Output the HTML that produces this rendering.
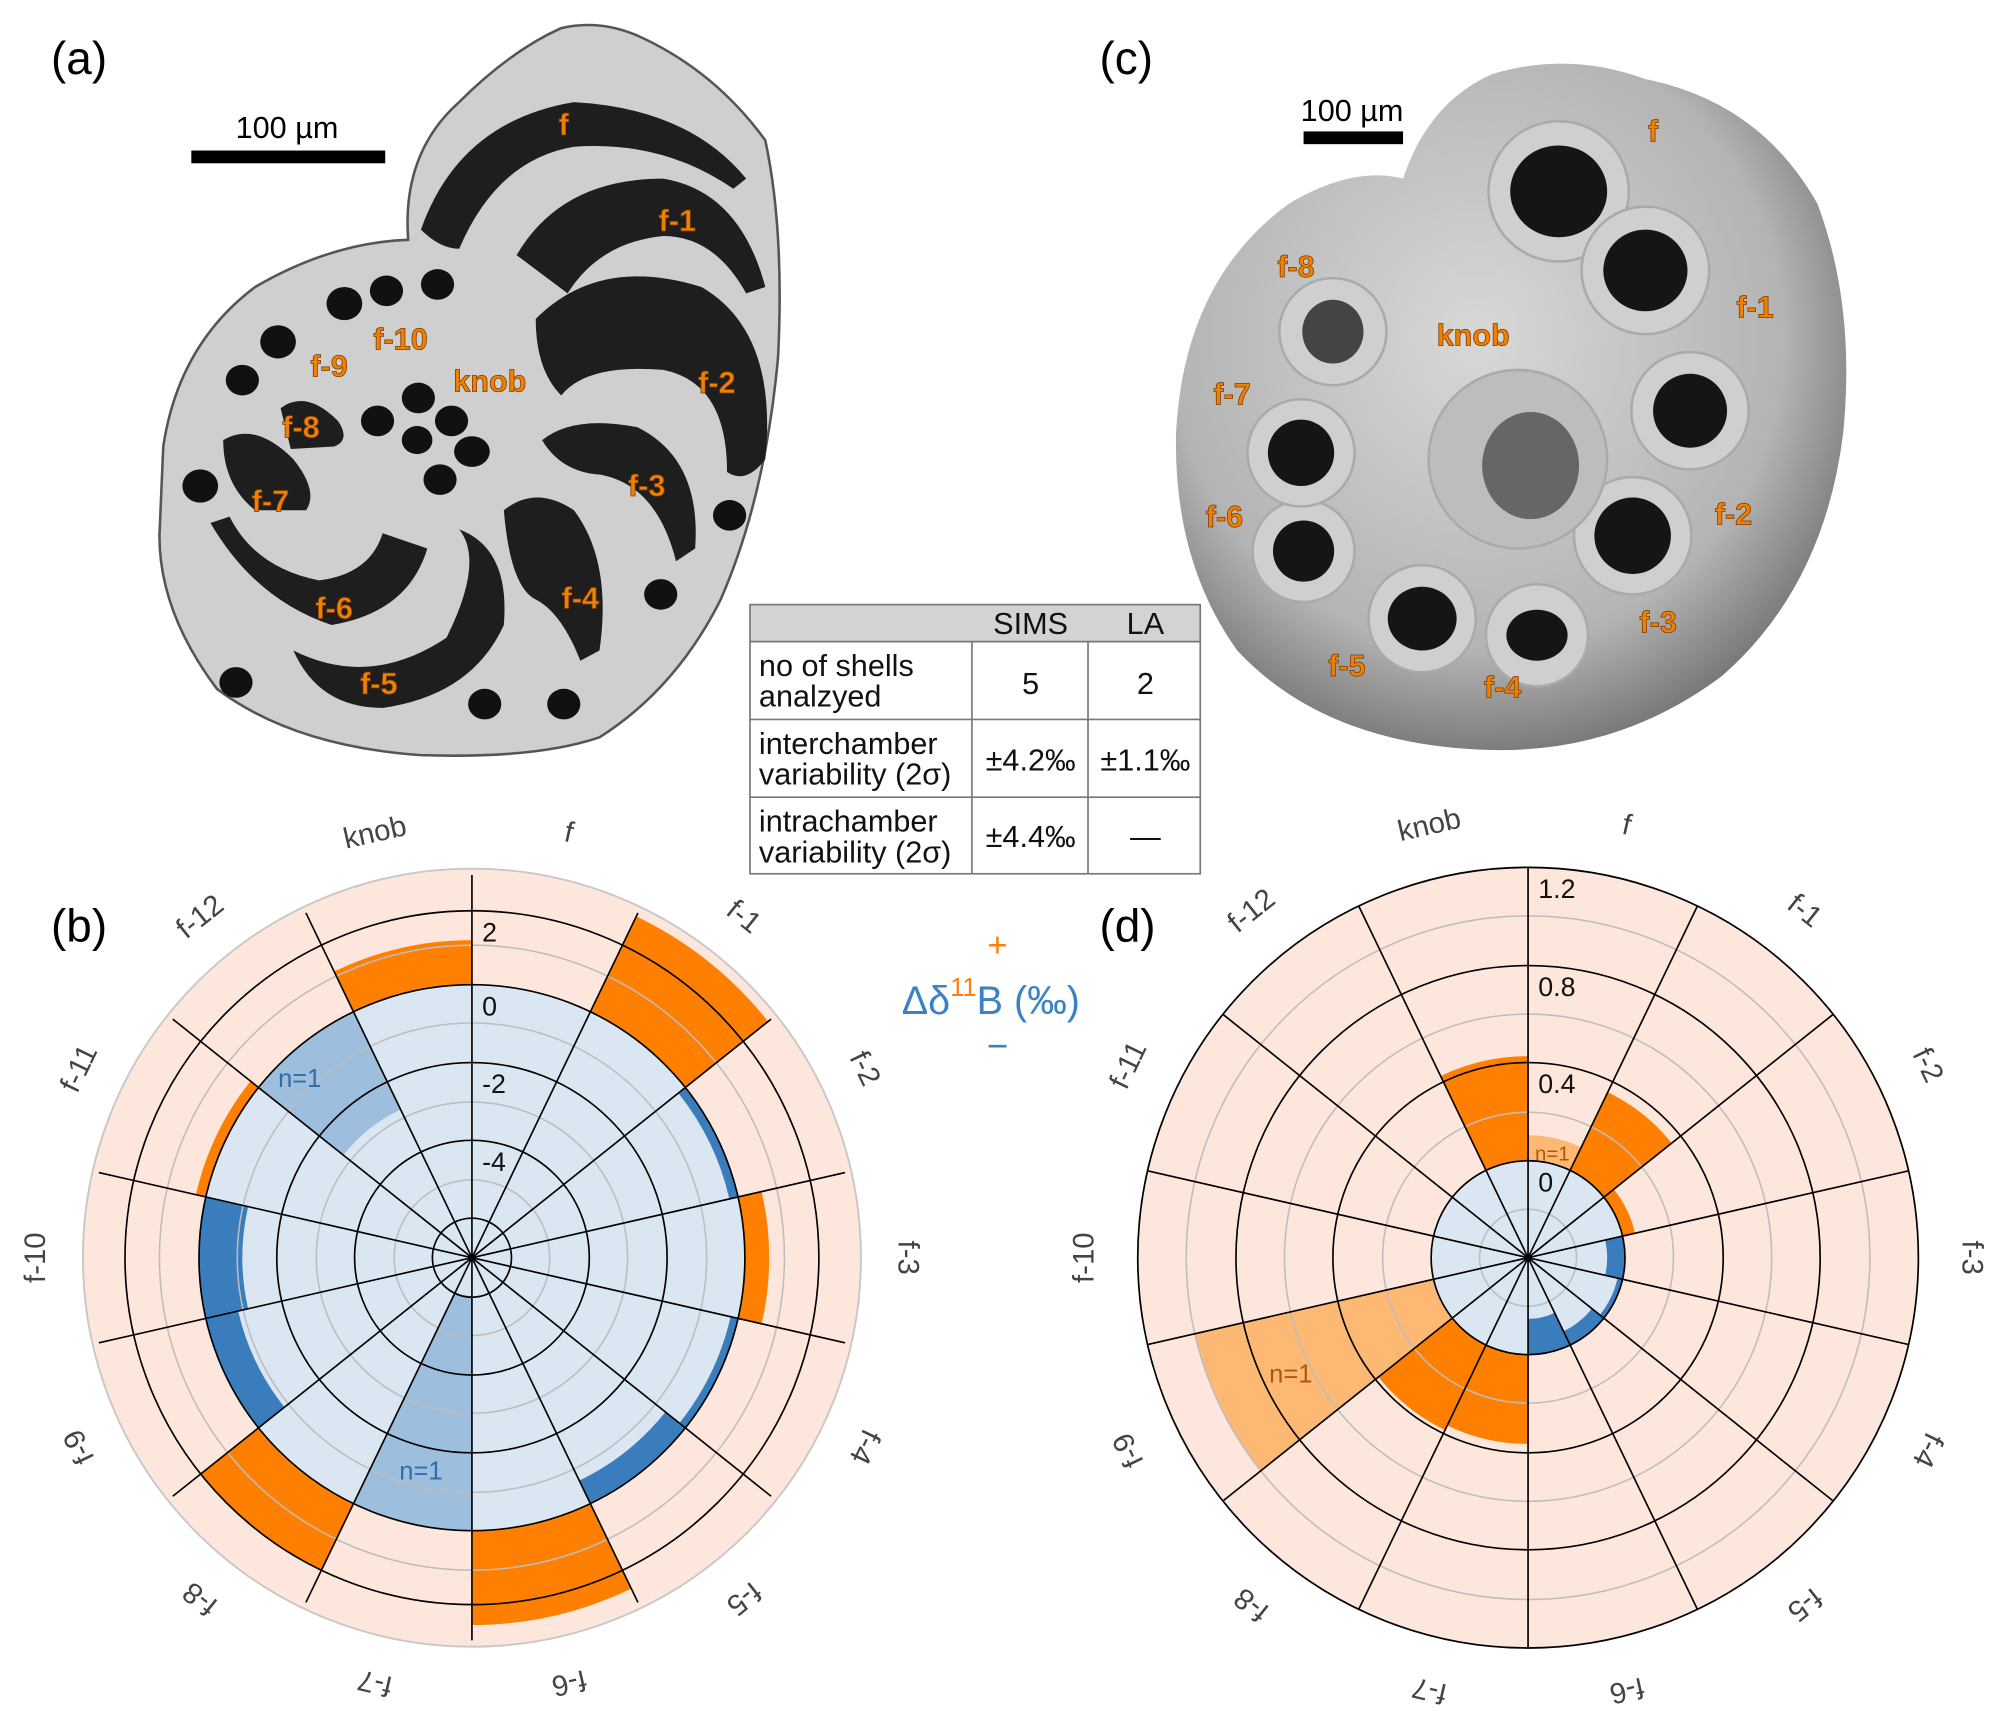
<!DOCTYPE html>
<html><head><meta charset="utf-8"><style>
html,body{margin:0;padding:0;background:#fff}
svg{display:block}
text{font-family:"Liberation Sans",Arial,sans-serif}
.lab{fill:#f08000;font-weight:bold;font-size:24px;stroke:#7a3a00;stroke-width:0.6px}
.pl{fill:#444;font-size:23px}
.tk{fill:#111;font-size:21px}
</style></head><body>
<svg id="s" width="2000" height="1722" viewBox="0 0 1568 1350" xmlns="http://www.w3.org/2000/svg">
<defs>
<radialGradient id="sg" cx="0.45" cy="0.4" r="0.65">
<stop offset="0" stop-color="#d8d8d8"/><stop offset="0.7" stop-color="#b4b4b4"/><stop offset="1" stop-color="#6a6a6a"/>
</radialGradient>
</defs>
<!-- panel a shell -->
<path d="M128,350 Q140,270 200,225 Q260,190 320,188 Q315,120 360,80 Q400,40 440,22 Q470,15 500,28 Q560,55 600,110 Q615,180 610,280 Q600,390 565,470 Q530,540 470,578 Q420,595 330,592 Q230,585 170,540 Q125,480 125,420 Z" fill="#cfcfcf" stroke="#555" stroke-width="2"/>
<g fill="#1e1e1e">
<path d="M330,180 Q360,95 450,80 Q540,85 585,140 L575,148 Q520,110 450,115 Q390,125 360,195 Q345,195 330,180Z"/>
<path d="M405,200 Q440,140 520,140 Q580,150 600,225 L585,230 Q560,185 520,185 Q470,190 445,230 Z"/>
<path d="M420,250 Q470,200 550,225 Q610,260 600,360 Q585,380 570,370 Q570,300 520,290 Q460,285 440,310 Q420,290 420,250Z"/>
<path d="M425,345 Q450,325 500,335 Q550,360 545,430 L530,440 Q515,380 470,372 Q440,370 425,345Z"/>
<path d="M395,400 Q420,380 450,400 Q480,440 470,510 L455,518 Q440,480 420,470 Q400,460 395,400Z"/>
<path d="M230,510 Q290,540 350,500 Q380,440 360,415 Q400,430 395,490 Q370,545 300,555 Q250,555 230,510Z"/>
<path d="M165,410 Q200,470 260,490 Q320,480 335,430 L300,418 Q290,450 250,455 Q200,445 180,405Z"/>
<path d="M175,345 Q200,330 230,360 Q250,385 240,400 L200,400 Q175,380 175,345Z"/>
<path d="M220,320 Q240,305 265,330 Q275,345 262,350 L228,352Z"/>
</g>
<g fill="#111">
<ellipse cx="157" cy="381" rx="14" ry="13"/><ellipse cx="190" cy="298" rx="13" ry="12"/><ellipse cx="218" cy="268" rx="14" ry="13"/>
<ellipse cx="270" cy="238" rx="14" ry="13"/><ellipse cx="303" cy="228" rx="13" ry="12"/><ellipse cx="343" cy="223" rx="13" ry="12"/>
<ellipse cx="296" cy="330" rx="13" ry="12"/><ellipse cx="328" cy="312" rx="13" ry="12"/><ellipse cx="354" cy="330" rx="13" ry="12"/>
<ellipse cx="370" cy="354" rx="14" ry="12"/><ellipse cx="345" cy="376" rx="13" ry="12"/><ellipse cx="327" cy="345" rx="12" ry="11"/>
<ellipse cx="572" cy="404" rx="13" ry="12"/><ellipse cx="518" cy="466" rx="13" ry="12"/><ellipse cx="442" cy="552" rx="13" ry="12"/>
<ellipse cx="380" cy="552" rx="13" ry="12"/><ellipse cx="185" cy="535" rx="13" ry="12"/>
</g>
<!-- panel c sphere -->
<path d="M922,340 Q928,220 1010,160 Q1060,130 1100,140 Q1120,80 1170,58 Q1230,40 1290,62 Q1380,80 1425,160 Q1455,240 1445,340 Q1430,460 1350,530 Q1270,590 1170,588 Q1040,585 970,510 Q920,440 922,340Z" fill="url(#sg)"/>
<g fill="#cfcfcf" stroke="#aaa" stroke-width="2">
<circle cx="1222" cy="150" r="55"/><circle cx="1290" cy="212" r="50"/><circle cx="1325" cy="322" r="46"/><circle cx="1280" cy="420" r="46"/>
<circle cx="1205" cy="498" r="40"/><circle cx="1115" cy="485" r="42"/><circle cx="1022" cy="432" r="40"/><circle cx="1020" cy="355" r="42"/><circle cx="1045" cy="260" r="42"/>
<circle cx="1190" cy="360" r="70" fill="#bdbdbd"/>
</g>
<g fill="#151515">
<ellipse cx="1222" cy="150" rx="38" ry="36"/><ellipse cx="1290" cy="212" rx="33" ry="32"/><ellipse cx="1325" cy="322" rx="29" ry="29"/><ellipse cx="1280" cy="420" rx="30" ry="30"/>
<ellipse cx="1205" cy="498" rx="24" ry="20"/><ellipse cx="1115" cy="485" rx="27" ry="25"/><ellipse cx="1022" cy="432" rx="24" ry="24"/><ellipse cx="1020" cy="355" rx="26" ry="26"/><ellipse cx="1045" cy="260" rx="24" ry="25" fill="#444"/>
<ellipse cx="1200" cy="365" rx="38" ry="42" fill="#666"/>
</g>
<!-- labels photos -->
<text x="40" y="58" font-size="36">(a)</text>
<text x="862" y="58" font-size="36">(c)</text>
<text x="40" y="738" font-size="36">(b)</text>
<text x="862" y="738" font-size="36">(d)</text>
<text x="225" y="108" font-size="24" text-anchor="middle">100 µm</text>
<rect x="150" y="118" width="152" height="10" fill="#000"/>
<text x="1060" y="95" font-size="24" text-anchor="middle">100 µm</text>
<rect x="1022" y="103" width="78" height="10" fill="#000"/>
<g class="lab" text-anchor="middle">
<text x="442" y="106">f</text><text x="531" y="181">f-1</text><text x="314" y="274">f-10</text><text x="258" y="295">f-9</text>
<text x="384" y="307">knob</text><text x="562" y="308">f-2</text><text x="236" y="343">f-8</text><text x="212" y="401">f-7</text>
<text x="507" y="389">f-3</text><text x="262" y="485">f-6</text><text x="455" y="477">f-4</text><text x="297" y="544">f-5</text>
<text x="1296" y="111">f</text><text x="1016" y="217">f-8</text><text x="1376" y="249">f-1</text><text x="1155" y="271">knob</text>
<text x="966" y="317">f-7</text><text x="960" y="413">f-6</text><text x="1359" y="411">f-2</text><text x="1300" y="496">f-3</text>
<text x="1056" y="530">f-5</text><text x="1178" y="547">f-4</text>
</g>
<!-- table -->
<g font-size="24" fill="#111">
<rect x="588" y="474" width="353" height="29" fill="#d3d3d3"/>
<g stroke="#777" stroke-width="1.3" fill="none">
<rect x="588" y="474" width="353" height="211"/>
<line x1="588" y1="503" x2="941" y2="503"/><line x1="588" y1="564" x2="941" y2="564"/><line x1="588" y1="625" x2="941" y2="625"/>
<line x1="762" y1="503" x2="762" y2="685"/><line x1="853" y1="503" x2="853" y2="685"/>
</g>
<text x="808" y="497" text-anchor="middle">SIMS</text><text x="898" y="497" text-anchor="middle">LA</text>
<text x="595" y="530">no of shells</text><text x="595" y="554">analzyed</text>
<text x="808" y="544" text-anchor="middle">5</text><text x="898" y="544" text-anchor="middle">2</text>
<text x="595" y="591">interchamber</text><text x="595" y="615">variability (2σ)</text>
<text x="808" y="604" text-anchor="middle">±4.2‰</text><text x="898" y="604" text-anchor="middle">±1.1‰</text>
<text x="595" y="652">intrachamber</text><text x="595" y="676">variability (2σ)</text>
<text x="808" y="664" text-anchor="middle">±4.4‰</text><text x="898" y="664" text-anchor="middle">—</text>
</g>
<!-- legend -->
<text x="782" y="750" font-size="27" fill="#ff7f0e" text-anchor="middle">+</text>
<text x="707" y="795" font-size="31" fill="#3a82c4">Δδ<tspan fill="#ff7f0e" font-size="20" dy="-14">11</tspan><tspan dy="14">B (‰)</tspan></text>
<text x="782" y="830" font-size="29" fill="#3a82c4" text-anchor="middle">−</text>
<g id="pb"></g><g id="pd"></g>
</svg>
<script>
var NS="http://www.w3.org/2000/svg";
function el(p,t,a){var e=document.createElementNS(NS,t);for(var k in a)e.setAttribute(k,a[k]);p.appendChild(e);return e;}
function pt(cx,cy,r,a){a=a*Math.PI/180;return [cx+r*Math.sin(a),cy-r*Math.cos(a)];}
function wedge(g,cx,cy,r0,r1,a0,a1,fill){
 var p0=pt(cx,cy,r1,a0),p1=pt(cx,cy,r1,a1),p2=pt(cx,cy,r0,a1),p3=pt(cx,cy,r0,a0);
 var d="M"+p0+" A"+r1+","+r1+" 0 0 1 "+p1+" L"+p2+" A"+r0+","+r0+" 0 0 0 "+p3+"Z";
 el(g,"path",{d:d,fill:fill});
}
var S=360/14, names=["f","f-1","f-2","f-3","f-4","f-5","f-6","f-7","f-8","f-9","f-10","f-11","f-12","knob"];
var OR="#ff7f00",LO="#fdb874",BL="#3a7dbd",MB="#9dbfdd",LB="#dae6f2",PK="#fde6dc";
function plot(id,cx,cy,R,zero,bars,black,gray,ticks,pad){
 var g=document.getElementById(id);
 el(g,"circle",{cx:cx,cy:cy,r:R+pad,fill:PK,stroke:"#c8c8c8","stroke-width":1.5});
 el(g,"circle",{cx:cx,cy:cy,r:zero,fill:LB});
 bars.forEach(function(b){wedge(g,cx,cy,b[1],b[2],b[0]*S,(b[0]+1)*S,b[3]);});
 gray.forEach(function(r){el(g,"circle",{cx:cx,cy:cy,r:r,fill:"none",stroke:"#bdbdbd","stroke-width":1.2});});
 black.forEach(function(r){el(g,"circle",{cx:cx,cy:cy,r:r,fill:"none",stroke:"#000","stroke-width":1.3});});
 for(var i=0;i<14;i++){var p=pt(cx,cy,R,i*S);el(g,"line",{x1:cx,y1:cy,x2:p[0],y2:p[1],stroke:"#000","stroke-width":1.3});}
 ticks.forEach(function(t){var x=el(g,"text",{x:cx+8,y:cy-t[1]+24,"class":"tk"});x.textContent=t[0];});
 for(var i=0;i<14;i++){var c=(i+0.5)*S,p=pt(cx,cy,R+42,c);
  var t=el(g,"text",{x:p[0],y:p[1],"class":"pl","text-anchor":"middle","dominant-baseline":"central",transform:"rotate("+c+" "+p[0]+" "+p[1]+")"});t.textContent=names[i];}
}
plot("pb",370,986,300,214,[
 [13,214,249,OR],[1,214,297,OR],[2,207,214,BL],[3,214,233,OR],[4,208,214,BL],[5,194,214,BL],
 [6,214,288,OR],[7,30,214,MB],[8,214,272,OR],[9,188,214,BL],[10,180,214,BL],[11,214,222,OR],[12,129,214,MB]
],[31,92,153,214,272],[61,122,184,245],[["2",272],["0",214],["-2",153],["-4",92]],5);
plot("pd",1198,986,306,76,[
 [13,76,158,OR],[0,76,96,LO],[1,76,144,OR],[2,76,86,OR],[3,62,76,BL],[4,72,76,BL],[5,64,76,BL],[6,48,76,BL],
 [7,76,146,OR],[8,76,150,OR],[9,76,268,LO]
],[76,153,229,306],[38,114,191,268],[["1.2",306],["0.8",229],["0.4",153],["0",76]],0);
var g=document.getElementById("pb");
[[235,852],[330,1160]].forEach(function(p){var t=el(g,"text",{x:p[0],y:p[1],fill:"#2f6ea8","font-size":"20","text-anchor":"middle"});t.textContent="n=1";});
var h=document.getElementById("pd");
[[1217,910,16],[1012,1084,20]].forEach(function(p){var t=el(h,"text",{x:p[0],y:p[1],fill:"#b0580a","font-size":p[2],"text-anchor":"middle"});t.textContent="n=1";});
</script>
</body></html>
